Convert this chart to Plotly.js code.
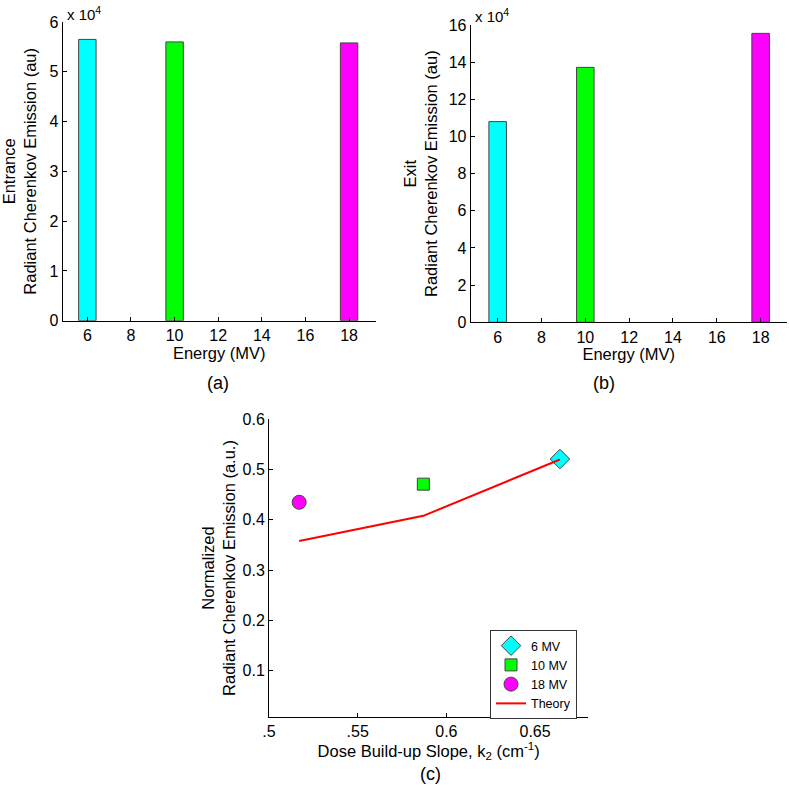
<!DOCTYPE html>
<html><head><meta charset="utf-8">
<script src="https://cdn.plot.ly/plotly-3.0.1.min.js"></script>
<style>html,body{margin:0;padding:0;background:#fff}#chart{width:789px;height:787px}</style>
</head><body><div id="chart"></div>
<script>
// ---- data ----
const energies = [6, 10, 18];
const barColors = ['#00ffff', '#00ff00', '#ff00ff'];
const entranceValues = [56500, 56000, 55800];
const exitValues = [108000, 137200, 155500];
const energyTicks = [6, 8, 10, 12, 14, 16, 18];
const entranceTickLabels = ['0', '1', '2', '3', '4', '5', '6'];
const exitTickLabels = ['0', '2', '4', '6', '8', '10', '12', '14', '16'];
const seriesNames = ['6 MV', '10 MV', '18 MV'];
const seriesSymbols = ['diamond', 'square', 'circle'];
const slopeK2 = [0.664, 0.587, 0.517];
const normEmission = [0.521, 0.471, 0.435];
const theoryK2 = [0.517, 0.587, 0.664];
const theoryValues = [0.358, 0.408, 0.520];
const slopeTickVals = [0.5, 0.55, 0.6, 0.65];
const slopeTickText = ['.5', '.55', '0.6', '0.65'];
const normTickVals = [0.1, 0.2, 0.3, 0.4, 0.5, 0.6];
const normTickText = ['0.1', '0.2', '0.3', '0.4', '0.5', '0.6'];

const FONT = 'Liberation Sans, Arial, Helvetica, sans-serif';
const W = 789, H = 787;
const px = v => v / W;
const py = v => 1 - v / H;

const traces = [];
// panel (a)
traces.push({type: 'bar', x: energies, y: entranceValues, width: 0.8,
  marker: {color: barColors, line: {color: '#444', width: 1}},
  xaxis: 'x', yaxis: 'y', showlegend: false, hoverinfo: 'x+y'});
// panel (b)
traces.push({type: 'bar', x: energies, y: exitValues, width: 0.8,
  marker: {color: barColors, line: {color: '#444', width: 1}},
  xaxis: 'x2', yaxis: 'y2', showlegend: false, hoverinfo: 'x+y'});
// panel (c)
const markerSizes = [15, 12, 14];
for (let i = 0; i < seriesNames.length; i++) {
  traces.push({type: 'scatter', mode: 'markers', name: seriesNames[i],
    x: [slopeK2[i]], y: [normEmission[i]], xaxis: 'x3', yaxis: 'y3',
    marker: {symbol: seriesSymbols[i], color: barColors[i], size: markerSizes[i],
      line: {color: '#444', width: 1}}});
}
traces.push({type: 'scatter', mode: 'lines', name: 'Theory', x: theoryK2, y: theoryValues,
  xaxis: 'x3', yaxis: 'y3', line: {color: '#ff0000', width: 2}});

const axBase = {showline: true, linecolor: '#000', linewidth: 1, ticks: 'inside', ticklen: 4,
  tickcolor: '#000', tickwidth: 1, showgrid: false, zeroline: false,
  tickfont: {family: FONT, size: 16, color: '#000'}, automargin: false, ticklabelstandoff: 0};
const titleFont = {family: FONT, size: 16.5, color: '#000'};

const layout = {
  width: W, height: H, margin: {l: 0, r: 0, t: 0, b: 0},
  paper_bgcolor: '#fff', plot_bgcolor: '#fff', font: {family: FONT, color: '#000'},
  showlegend: true,
  legend: {x: px(577), y: py(630), xanchor: 'right', yanchor: 'top',
    bordercolor: '#333', borderwidth: 1, bgcolor: '#fff',
    font: {family: FONT, size: 12.5, color: '#000'}, tracegroupgap: 0},
  xaxis: Object.assign({}, axBase, {domain: [px(62.7), px(375.7)], range: [4.87, 19.22],
    tickvals: energyTicks, anchor: 'y',
    title: {text: 'Energy (MV)', font: titleFont, standoff: 3}}),
  yaxis: Object.assign({}, axBase, {domain: [py(320.7), py(22)], range: [0, 60000],
    tickvals: entranceTickLabels.map(t => Number(t) * 1e4), ticktext: entranceTickLabels, anchor: 'x',
    title: {text: 'Entrance<br>Radiant Cherenkov Emission (au)', font: titleFont, standoff: 12}}),
  xaxis2: Object.assign({}, axBase, {domain: [px(470.7), px(786.7)], range: [4.77, 19.19],
    tickvals: energyTicks, anchor: 'y2',
    title: {text: 'Energy (MV)', font: titleFont, standoff: 3}}),
  yaxis2: Object.assign({}, axBase, {domain: [py(322.3), py(25)], range: [0, 160000],
    tickvals: exitTickLabels.map(t => Number(t) * 1e4), ticktext: exitTickLabels, anchor: 'x2',
    title: {text: 'Exit<br>Radiant Cherenkov Emission (au)', font: titleFont, standoff: 6}}),
  xaxis3: Object.assign({}, axBase, {domain: [px(269), px(588.3)], range: [0.5, 0.68],
    tickvals: slopeTickVals, ticktext: slopeTickText, anchor: 'y3',
    title: {text: 'Dose Build-up Slope, k<sub>2</sub> (cm<sup>-1</sup>)', font: titleFont, standoff: 3}}),
  yaxis3: Object.assign({}, axBase, {domain: [py(716.7), py(419.3)], range: [0.0085, 0.6],
    tickvals: normTickVals, ticktext: normTickText, anchor: 'x3',
    title: {text: 'Normalized<br>Radiant Cherenkov Emission (a.u.)', font: titleFont, standoff: 2}}),
  annotations: [
    {xref: 'paper', yref: 'paper', x: px(65), y: py(14), xanchor: 'left', yanchor: 'middle',
     text: 'x 10<sup>4</sup>', showarrow: false, font: {family: FONT, size: 15, color: '#000'}},
    {xref: 'paper', yref: 'paper', x: px(473), y: py(16), xanchor: 'left', yanchor: 'middle',
     text: 'x 10<sup>4</sup>', showarrow: false, font: {family: FONT, size: 15, color: '#000'}},
    {xref: 'paper', yref: 'paper', x: px(218), y: py(383), xanchor: 'center', yanchor: 'middle',
     text: '(a)', showarrow: false, font: {family: FONT, size: 18, color: '#000'}},
    {xref: 'paper', yref: 'paper', x: px(604), y: py(383), xanchor: 'center', yanchor: 'middle',
     text: '(b)', showarrow: false, font: {family: FONT, size: 18, color: '#000'}},
    {xref: 'paper', yref: 'paper', x: px(430), y: py(774), xanchor: 'center', yanchor: 'middle',
     text: '(c)', showarrow: false, font: {family: FONT, size: 18, color: '#000'}}
  ]
};

Plotly.newPlot('chart', traces, layout, {displayModeBar: false, staticPlot: true});
</script>
</body></html>
